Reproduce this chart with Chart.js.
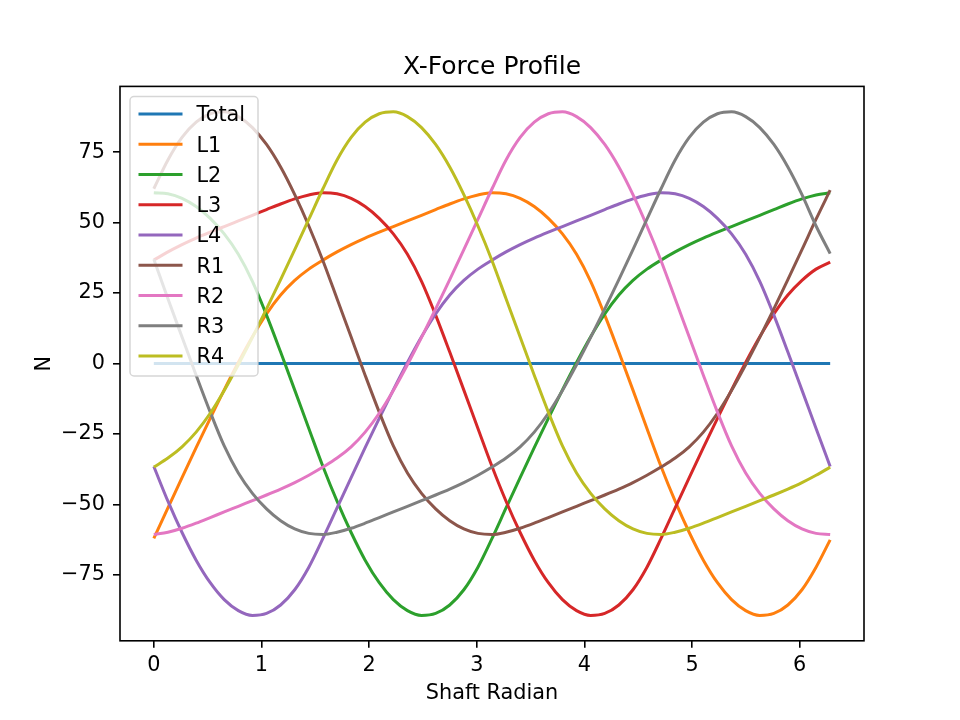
<!DOCTYPE html>
<html lang="en">
<head>
    <meta charset="UTF-8">
    <title>X-Force Profile</title>
    <script src="https://cdn.jsdelivr.net/npm/chart.js"></script>
    <style>
        body { margin: 0; background: #fff; }
        canvas { display: block; }
    </style>
</head>
<body>
    <canvas id="force_chart" width="960" height="720"></canvas>

    <script>
        // Shaft angle samples (radian)
        var shaft = [0, 0.131, 0.262, 0.393, 0.524, 0.654, 0.785, 0.916, 1.047, 1.178, 1.309, 1.44,
            1.571, 1.702, 1.833, 1.963, 2.094, 2.225, 2.356, 2.487, 2.618, 2.749, 2.88, 3.011,
            3.142, 3.272, 3.403, 3.534, 3.665, 3.796, 3.927, 4.058, 4.189, 4.32, 4.451, 4.581,
            4.712, 4.843, 4.974, 5.105, 5.236, 5.367, 5.498, 5.629, 5.76, 5.89, 6.021, 6.152, 6.283];

        var total = [0, 0, 0, 0, 0, 0, 0, 0, 0, 0, 0, 0, 0, 0, 0, 0, 0, 0, 0, 0, 0, 0, 0, 0, 0,
            0, 0, 0, 0, 0, 0, 0, 0, 0, 0, 0, 0, 0, 0, 0, 0, 0, 0, 0, 0, 0, 0, 0, 0];

        var l1 = [-62, -51.2, -40.4, -29.8, -19.4, -9.3, 0.4, 9.5, 17.6, 24.3, 29.5, 33.5,
            36.7, 39.6, 42.2, 44.5, 46.6, 48.6, 50.6, 52.6, 54.6, 56.6, 58.4, 59.8,
            60.6, 60.2, 58.6, 55.7, 51.5, 46, 38.8, 29.2, 17.2, 4.1, -9.4, -23,
            -36.5, -48.8, -59.9, -69.7, -77.7, -83.7, -87.6, -89.3, -88.6, -85.6, -80.2, -72.2,
            -62.5];

        var l2 = [60.6, 60.2, 58.6, 55.7, 51.5, 46, 38.8, 29.2, 17.2, 4.1, -9.4, -23,
            -36.5, -48.8, -59.9, -69.7, -77.7, -83.7, -87.6, -89.3, -88.6, -85.6, -80.2, -72.2,
            -62, -51.2, -40.4, -29.8, -19.4, -9.3, 0.4, 9.5, 17.6, 24.3, 29.5, 33.5,
            36.7, 39.6, 42.2, 44.5, 46.6, 48.6, 50.6, 52.6, 54.6, 56.6, 58.4, 59.8,
            60.6];

        var l3 = [36.7, 39.6, 42.2, 44.5, 46.6, 48.6, 50.6, 52.6, 54.6, 56.6, 58.4, 59.8,
            60.6, 60.2, 58.6, 55.7, 51.5, 46, 38.8, 29.2, 17.2, 4.1, -9.4, -23,
            -36.5, -48.8, -59.9, -69.7, -77.7, -83.7, -87.6, -89.3, -88.6, -85.6, -80.2, -72.2,
            -62, -51.2, -40.4, -29.8, -19.4, -9.3, 0.4, 9.5, 17.6, 24.3, 29.5, 33.5,
            36];

        var l4 = [-36.5, -48.8, -59.9, -69.7, -77.7, -83.7, -87.6, -89.3, -88.6, -85.6, -80.2, -72.2,
            -62, -51.2, -40.4, -29.8, -19.4, -9.3, 0.4, 9.5, 17.6, 24.3, 29.5, 33.5,
            36.7, 39.6, 42.2, 44.5, 46.6, 48.6, 50.6, 52.6, 54.6, 56.6, 58.4, 59.8,
            60.6, 60.2, 58.6, 55.7, 51.5, 46, 38.8, 29.2, 17.2, 4.1, -9.4, -23,
            -36.5];

        var r1 = [62, 72.2, 80.2, 85.6, 88.6, 89.3, 87.6, 83.7, 77.7, 69.7, 59.9, 48.8, 36.5,
            23, 9.4, -4.1, -17.2, -29.2, -38.8, -46, -51.5, -55.7, -58.6, -60.2, -60.6,
            -59.8, -58.4, -56.6, -54.6, -52.6, -50.6, -48.6, -46.6, -44.5, -42.2, -39.6, -36.7,
            -33.5, -29.5, -24.3, -17.6, -9.5, -0.4, 9.3, 19.4, 29.8, 40.4, 51.2, 61.5];

        var r2 = [-60.6,
            -59.8, -58.4, -56.6, -54.6, -52.6, -50.6, -48.6, -46.6, -44.5, -42.2, -39.6, -36.7,
            -33.5, -29.5, -24.3, -17.6, -9.5, -0.4, 9.3, 19.4, 29.8, 40.4, 51.2,
            62,
            72.2, 80.2, 85.6, 88.6, 89.3, 87.6, 83.7, 77.7, 69.7, 59.9, 48.8, 36.5,
            23, 9.4, -4.1, -17.2, -29.2, -38.8, -46, -51.5, -55.7, -58.6, -60.2,
            -60.6];

        var r3 = [37,
            23, 9.4, -4.1, -17.2, -29.2, -38.8, -46, -51.5, -55.7, -58.6, -60.2, -60.6,
            -59.8, -58.4, -56.6, -54.6, -52.6, -50.6, -48.6, -46.6, -44.5, -42.2, -39.6, -36.7,
            -33.5, -29.5, -24.3, -17.6, -9.5, -0.4, 9.3, 19.4, 29.8, 40.4, 51.2,
            62,
            72.2, 80.2, 85.6, 88.6, 89.3, 87.6, 83.7, 77.7, 69.7, 59.9, 48.8,
            39];

        var r4 = [-36.7,
            -33.5, -29.5, -24.3, -17.6, -9.5, -0.4, 9.3, 19.4, 29.8, 40.4, 51.2,
            62,
            72.2, 80.2, 85.6, 88.6, 89.3, 87.6, 83.7, 77.7, 69.7, 59.9, 48.8, 36.5,
            23, 9.4, -4.1, -17.2, -29.2, -38.8, -46, -51.5, -55.7, -58.6, -60.2, -60.6,
            -59.8, -58.4, -56.6, -54.6, -52.6, -50.6, -48.6, -46.6, -44.5, -42.2, -39.6,
            -36.7];

        var seriesNames = ["Total", "L1", "L2", "L3", "L4", "R1", "R2", "R3", "R4"];
        var seriesData = [total, l1, l2, l3, l4, r1, r2, r3, r4];
        var seriesColors = ["#1f77b4", "#ff7f0e", "#2ca02c", "#d62728", "#9467bd",
                            "#8c564b", "#e377c2", "#7f7f7f", "#bcbd22"];

        var xTicks = [0, 1, 2, 3, 4, 5, 6];
        var yTicks = [75, 50, 25, 0, -25, -50, -75];

        var FONT = "DejaVu Sans";

        function toPoints(values) {
            return values.map(function (v, i) { return { x: shaft[i], y: v }; });
        }

        function minusLabel(v) {
            return v < 0 ? "\u2212" + Math.abs(v) : String(v);
        }

        // frame, title, axis labels and the in-plot legend (matplotlib look)
        var decorPlugin = {
            id: "decor",
            afterDraw: function (chart) {
                var ctx = chart.ctx;
                var area = chart.chartArea;
                ctx.save();

                ctx.strokeStyle = "#000";
                ctx.lineWidth = 1.6;
                ctx.strokeRect(area.left, area.top, area.right - area.left, area.bottom - area.top);

                ctx.fillStyle = "#000";
                ctx.textAlign = "center";
                ctx.textBaseline = "alphabetic";
                ctx.font = "25px '" + FONT + "'";
                ctx.fillText("X-Force Profile", (area.left + area.right) / 2, 73.5);

                ctx.font = "20.8px '" + FONT + "'";
                ctx.fillText("Shaft Radian", (area.left + area.right) / 2, 699);

                ctx.save();
                ctx.translate(50, (area.top + area.bottom) / 2);
                ctx.rotate(-Math.PI / 2);
                ctx.fillText("N", 0, 0);
                ctx.restore();

                // legend box
                var bx = 130, by = 96.5, bw = 128, bh = 279.5, r = 4;
                ctx.beginPath();
                ctx.moveTo(bx + r, by);
                ctx.arcTo(bx + bw, by, bx + bw, by + bh, r);
                ctx.arcTo(bx + bw, by + bh, bx, by + bh, r);
                ctx.arcTo(bx, by + bh, bx, by, r);
                ctx.arcTo(bx, by, bx + bw, by, r);
                ctx.closePath();
                ctx.fillStyle = "rgba(255,255,255,0.8)";
                ctx.fill();
                ctx.strokeStyle = "rgba(204,204,204,0.8)";
                ctx.lineWidth = 1.5;
                ctx.stroke();

                ctx.textAlign = "left";
                ctx.font = "20.8px '" + FONT + "'";
                for (var i = 0; i < seriesNames.length; i++) {
                    var rowY = 114 + 30.25 * i;
                    ctx.strokeStyle = seriesColors[i];
                    ctx.lineWidth = 3;
                    ctx.beginPath();
                    ctx.moveTo(138.5, rowY);
                    ctx.lineTo(182.5, rowY);
                    ctx.stroke();
                    ctx.fillStyle = "#000";
                    ctx.fillText(seriesNames[i], 196.5, rowY + 7.3);
                }
                ctx.restore();
            }
        };

        var datasets = seriesNames.map(function (name, i) {
            return {
                label: name,
                data: toPoints(seriesData[i]),
                borderColor: seriesColors[i],
                backgroundColor: seriesColors[i],
                borderWidth: 3,
                pointRadius: 0,
                cubicInterpolationMode: "monotone",
                fill: false,
                order: seriesNames.length - i
            };
        });

        Chart.defaults.font.family = FONT;
        Chart.defaults.font.size = 20.8;
        Chart.defaults.color = "#000";

        var lineChart = new Chart(document.getElementById("force_chart"), {
            type: "line",
            data: { datasets: datasets },
            options: {
                responsive: false,
                animation: false,
                devicePixelRatio: 1,
                layout: { padding: { left: 0, right: 96, top: 86.4, bottom: 0 } },
                plugins: {
                    legend: { display: false },
                    title: { display: false },
                    tooltip: { enabled: false }
                },
                scales: {
                    x: {
                        type: "linear",
                        min: -0.3142,
                        max: 6.5973,
                        border: { display: false },
                        grid: {
                            drawOnChartArea: false,
                            drawTicks: true,
                            tickLength: 7,
                            color: "#000",
                            lineWidth: 1.6
                        },
                        ticks: { padding: 5, maxRotation: 0 },
                        afterBuildTicks: function (scale) {
                            scale.ticks = xTicks.map(function (v) { return { value: v }; });
                        },
                        afterFit: function (scale) { scale.height = 79.2; }
                    },
                    y: {
                        type: "linear",
                        min: -98.3,
                        max: 98.3,
                        border: { display: false },
                        grid: {
                            drawOnChartArea: false,
                            drawTicks: true,
                            tickLength: 7,
                            color: "#000",
                            lineWidth: 1.6
                        },
                        ticks: {
                            padding: 8,
                            callback: function (v) { return minusLabel(v); }
                        },
                        afterBuildTicks: function (scale) {
                            scale.ticks = yTicks.map(function (v) { return { value: v }; });
                        },
                        afterFit: function (scale) { scale.width = 120; }
                    }
                }
            },
            plugins: [decorPlugin]
        });
    </script>
</body>
</html>
